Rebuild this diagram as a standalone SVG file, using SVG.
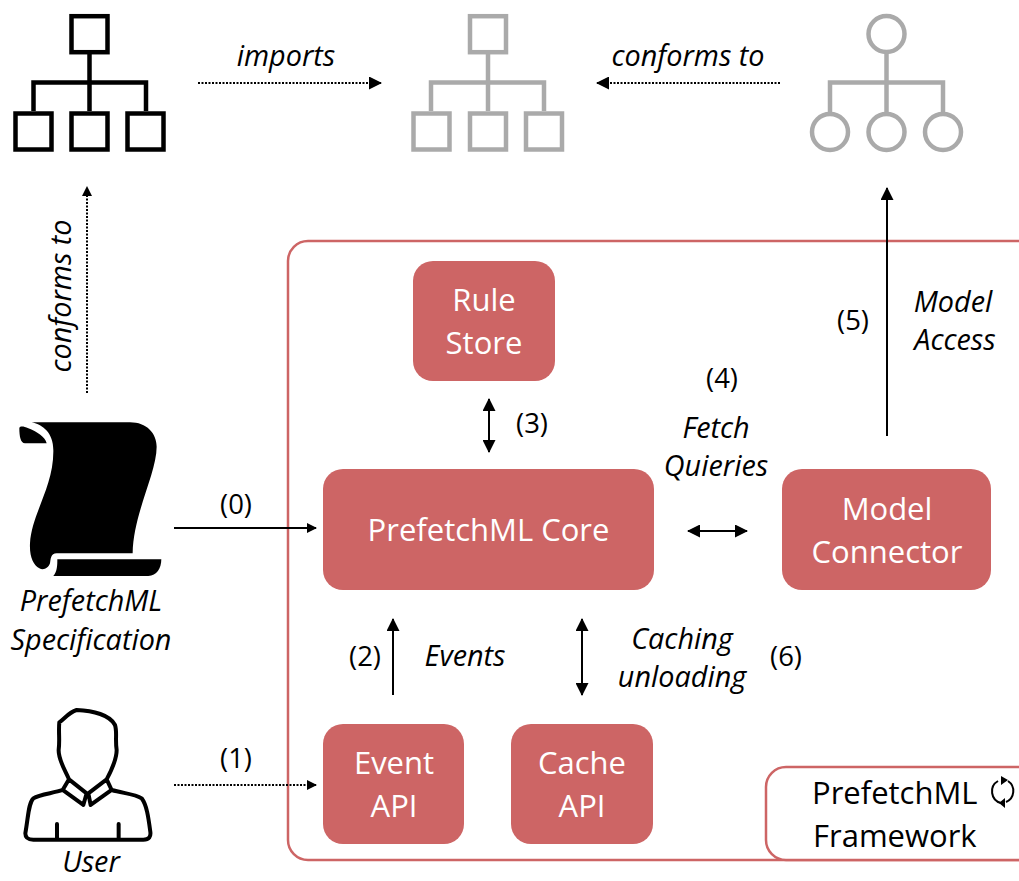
<svg xmlns="http://www.w3.org/2000/svg" width="1019" height="881" viewBox="0 0 1019 881">
<style>
text{font-family:"Open Sans","Noto Sans","Liberation Sans",sans-serif;font-size:27.500px;fill:#000;text-anchor:middle}
.i{font-style:italic;font-size:28.800px}
.w{fill:#fff;font-size:31px}
.l{font-size:31px;text-anchor:start}
.box{fill:#cd6565}
.frame{fill:#fff;stroke:#cd6565;stroke-width:2.500}
.k{fill:none;stroke:#000;stroke-width:4.500}
.g{fill:none;stroke:#aaa;stroke-width:4.500}
.s{fill:none;stroke:#000;stroke-width:2}
.d{fill:none;stroke:#000;stroke-width:2;stroke-dasharray:2 1.500}
.u{fill:none;stroke:#000;stroke-width:12;stroke-linejoin:round;stroke-linecap:round}
</style>
<defs>
<marker id="a" viewBox="0 0 13 13" refX="12" refY="6.500" markerWidth="13" markerHeight="13" markerUnits="userSpaceOnUse" orient="auto-start-reverse"><path d="M0,0L13,6.500L0,13Z" fill="#000"/></marker>
<marker id="b" viewBox="0 0 10 10" refX="9" refY="5" markerWidth="10" markerHeight="10" markerUnits="userSpaceOnUse" orient="auto-start-reverse"><path d="M0,0L10,5L0,10Z" fill="#000"/></marker>
</defs>
<g id="framework"><rect class="frame" x="288" y="241" width="760" height="619" rx="20"/></g>
<g id="metamodel-black">
<path class="k" d="M89.500,54V111M33.500,111V82.500H146V111"/>
<rect class="k" x="71.500" y="16.200" width="36" height="36"/><rect class="k" x="15.500" y="113.500" width="36" height="36"/><rect class="k" x="71.500" y="113.500" width="36" height="36"/><rect class="k" x="127.500" y="113.500" width="36" height="36"/>
</g>
<g id="metamodel-grey">
<path class="g" d="M488,54V111M431,111V82.500H544V111"/>
<rect class="g" x="470" y="16.200" width="36" height="36"/><rect class="g" x="413.500" y="113.500" width="36" height="36"/><rect class="g" x="470" y="113.500" width="36" height="36"/><rect class="g" x="526" y="113.500" width="36" height="36"/>
</g>
<g id="metamodel-circle">
<path class="g" d="M886.500,54V113M830,113V82.500H943V113"/>
<circle class="g" cx="886.500" cy="34" r="18"/><circle class="g" cx="830" cy="132" r="18"/><circle class="g" cx="886.500" cy="132" r="18"/><circle class="g" cx="943" cy="132" r="18"/>
</g>
<g id="connectors">
<path class="d" d="M198,83H381" marker-end="url(#a)"/>
<path class="d" d="M780,83H597" marker-end="url(#a)"/>
<path class="d" d="M87,393V187" marker-end="url(#b)"/>
<path class="s" d="M887,436V188" marker-end="url(#a)"/>
<path class="s" d="M174,528H316" marker-end="url(#b)"/>
<path class="d" d="M174,785H316" marker-end="url(#b)"/>
<path class="s" d="M393,695V619" marker-end="url(#a)"/>
<path class="s" d="M582,619V695" marker-start="url(#a)" marker-end="url(#a)"/>
<path class="s" d="M489,399V452" marker-start="url(#a)" marker-end="url(#a)"/>
<path class="s" d="M688,531H747" marker-start="url(#a)" marker-end="url(#a)"/>
</g>
<g id="rule-store"><rect class="box" x="413" y="261" width="142" height="120" rx="20"/><text class="w" x="484" y="311">Rule</text><text class="w" x="484" y="354">Store</text></g>
<g id="core"><rect class="box" x="323" y="469" width="331" height="121" rx="20"/><text class="w" x="488.500" y="541">PrefetchML Core</text></g>
<g id="model-connector"><rect class="box" x="782" y="469" width="209" height="121" rx="20"/><text class="w" x="887" y="520">Model</text><text class="w" x="887" y="563">Connector</text></g>
<g id="event-api"><rect class="box" x="323" y="724" width="141" height="120" rx="20"/><text class="w" x="394" y="774">Event</text><text class="w" x="394" y="817">API</text></g>
<g id="cache-api"><rect class="box" x="511" y="724" width="142" height="120" rx="20"/><text class="w" x="582" y="774">Cache</text><text class="w" x="582" y="817">API</text></g>
<g id="legend"><rect class="frame" x="766" y="767" width="300" height="93" rx="20"/>
<text class="l" x="812" y="804">PrefetchML</text><text class="l" x="813" y="847">Framework</text>
<path fill="none" stroke="#000" stroke-width="2" d="M998,781A12,12 0 0 0 1001,803M1008,781A12,12 0 0 1 1006,802"/>
<path d="M1001,776L1008,780L1001,785ZM1005,798L1005,808L999,803Z" fill="#000"/>
</g>
<g id="specification">
<g transform="translate(0,400) scale(.3333)" fill="#000">
<path d="M95,67L390,67C440,67 470,100 470,140C470,220 400,340 398,460L170,460C152,460 152,478 150,490C145,505 130,512 118,505C100,495 88,470 90,430C95,340 162,260 160,150C160,100 130,75 95,67Z"/>
<path d="M58,85C58,78 70,78 85,85C110,95 135,110 140,130L75,130C62,130 58,110 58,85Z"/>
<path d="M172,478L484,478C484,505 470,528 445,528L160,528C172,515 172,495 172,478Z"/>
</g>
<text class="i" x="91" y="611">PrefetchML</text><text class="i" x="91" y="650">Specification</text>
</g>
<g id="user">
<path class="u" transform="translate(0,690) scale(.3333)" d="M230,60C205,68 195,85 178,97C175,125 180,150 176,180C175,210 195,240 207,268L188,300C160,310 120,312 100,325C85,340 85,380 76,430C76,445 85,449 100,449L430,449C448,449 453,440 451,425C445,380 440,345 425,325C405,312 370,310 335,300L320,268C335,240 350,210 350,180C345,150 352,125 345,105C330,75 280,62 230,60ZM207,268L260,310L250,345L188,300M320,268L265,310L272,345L335,300M171,402V445M356,402V445"/>
<text class="i" x="91" y="872">User</text>
</g>
<g id="labels">
<text class="i" x="286" y="66">imports</text>
<text class="i" x="688" y="66">conforms to</text>
<text class="i" transform="translate(71,296) rotate(-90)">conforms to</text>
<text x="236" y="514">(0)</text>
<text x="236" y="768">(1)</text>
<text x="365" y="666">(2)</text>
<text class="i" x="465" y="666">Events</text>
<text x="532" y="433">(3)</text>
<text x="722" y="388">(4)</text>
<text class="i" x="716" y="438">Fetch</text>
<text class="i" x="716" y="476">Quieries</text>
<text x="853" y="330">(5)</text>
<text class="i" x="953" y="312">Model</text>
<text class="i" x="955" y="350">Access</text>
<text class="i" x="682" y="649">Caching</text>
<text class="i" x="682" y="687">unloading</text>
<text x="786" y="666">(6)</text>
</g>
</svg>
